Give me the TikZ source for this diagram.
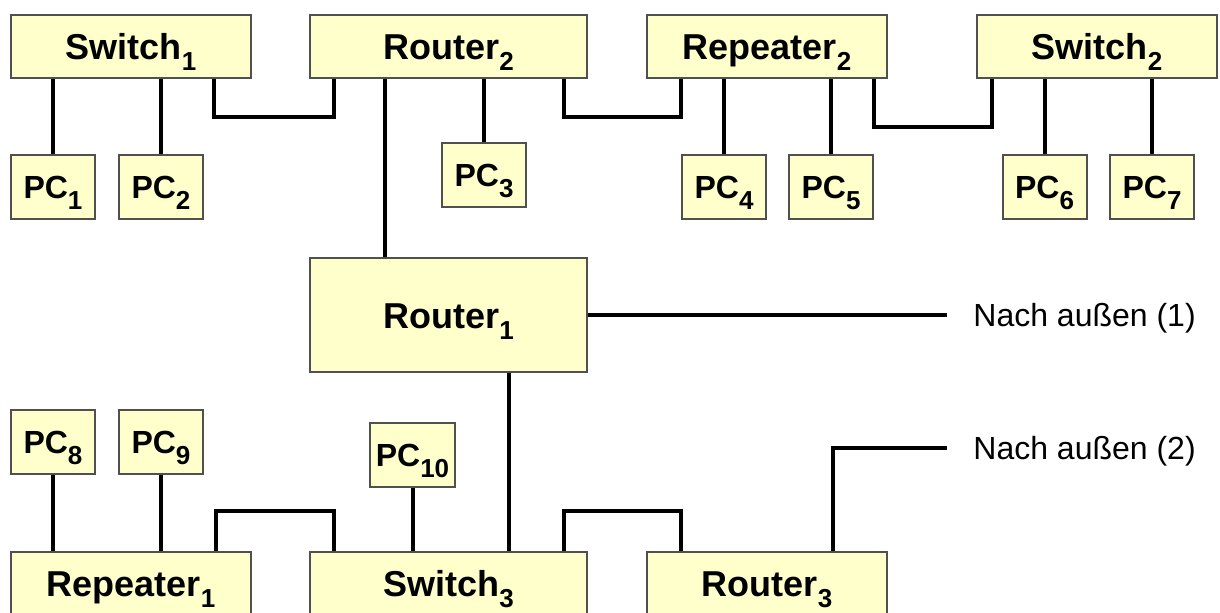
\documentclass[tikz,border=0pt]{standalone}
\usepackage{fontspec}
\setmainfont{Liberation Sans}
\usetikzlibrary{positioning, calc}
\definecolor{NETfill}{RGB}{255, 255, 204}
\definecolor{NETline}{RGB}{80, 80, 80}
\newcommand{\idx}[1]{\raisebox{-5.5pt}[0pt][0pt]{\fontsize{13}{13}\selectfont #1}}
\tikzset{
  dev/.style={rectangle, draw=NETline, line width=1pt, fill=NETfill,
    minimum width=120pt, minimum height=31.5pt, inner sep=0pt,
    text height=13pt, text depth=0pt, font=\fontsize{18}{20}\selectfont\bfseries},
  wide/.style={dev, minimum width=138.5pt},
  pc/.style={dev, minimum width=42pt, minimum height=32pt,
    text height=11.5pt, font=\fontsize{16}{18}\selectfont\bfseries},
  link/.style={line width=2pt},
  ext/.style={anchor=west, inner sep=0pt, text height=11.5pt, text depth=0pt,
    font=\fontsize{16}{18}\selectfont},
}

\begin{document}
\begin{tikzpicture}[x=0.5pt, y=-0.5pt]
  \useasboundingbox (0,0) rectangle (1220,612);
  % upper row
  \node[dev] (sw1) at (131,46.5) {Switch\idx{1}};
  \node[wide] (rt2) at (448.5,46.5) {Router\idx{2}};
  \node[dev] (rp2) at (767,46.5) {Repeater\idx{2}};
  \node[dev] (sw2) at (1097,46.5) {Switch\idx{2}};
  \node[pc] (pc1) at (53,187) {PC\idx{1}};
  \node[pc] (pc2) at (161,187) {PC\idx{2}};
  \node[pc] (pc3) at (484,175) {PC\idx{3}};
  \node[pc] (pc4) at (724,187) {PC\idx{4}};
  \node[pc] (pc5) at (831,187) {PC\idx{5}};
  \node[pc] (pc6) at (1044.5,187) {PC\idx{6}};
  \node[pc] (pc7) at (1152,187) {PC\idx{7}};
  % middle
  \node[wide, minimum height=57pt] (rt1) at (448.5,315) {Router\idx{1}};
  \node[ext] (ext1) at (973,315) {Nach außen (1)};
  \node[ext] (ext2) at (973,448) {Nach außen (2)};
  % lower row
  \node[pc] (pc8) at (53,442) {PC\idx{8}};
  \node[pc] (pc9) at (161,442) {PC\idx{9}};
  \node[pc, minimum width=42.5pt] (pc10) at (412.5,455) {PC\idx{10}};
  \node[dev] (rp1) at (131,583) {Repeater\idx{1}};
  \node[wide] (sw3) at (448.5,583) {Switch\idx{3}};
  \node[dev] (rt3) at (767,583) {Router\idx{3}};

  \draw[link] (pc1.north) -- (pc1.north |- sw1.south);
  \draw[link] (pc2.north) -- (pc2.north |- sw1.south);
  \draw[link] (pc3.north) -- (pc3.north |- rt2.south);
  \draw[link] (pc4.north) -- (pc4.north |- rp2.south);
  \draw[link] (pc5.north) -- (pc5.north |- rp2.south);
  \draw[link] (pc6.north) -- (pc6.north |- sw2.south);
  \draw[link] (pc7.north) -- (pc7.north |- sw2.south);
  \draw[link] ([xshift=-19pt]sw1.south east) -- ++(0,38) -| ([xshift=12.5pt]rt2.south west);
  \draw[link] ([xshift=-12pt]rt2.south east) -- ++(0,38) -| ([xshift=17.5pt]rp2.south west);
  \draw[link] ([xshift=-7pt]rp2.south east) -- ++(0,48) -| ([xshift=8pt]sw2.south west);

  \coordinate (r1top) at ([xshift=38pt]rt1.north west);
  \coordinate (r1bot) at ([xshift=100pt]rt1.south west);
  \draw[link] (r1top) -- (r1top |- rt2.south);
  \draw[link] (r1bot) -- (r1bot |- sw3.north);
  \draw[link] (rt1.east) -- ([xshift=-13pt]ext1.west);

  \draw[link] (pc8.south) -- (pc8.south |- rp1.north);
  \draw[link] (pc9.south) -- (pc9.south |- rp1.north);
  \draw[link] (pc10.south) -- (pc10.south |- sw3.north);
  \draw[link] ([xshift=-18pt]rp1.north east) -- ++(0,-40) -| ([xshift=12.5pt]sw3.north west);
  \draw[link] ([xshift=-12pt]sw3.north east) -- ++(0,-40) -| ([xshift=17.5pt]rt3.north west);
  \draw[link] ([xshift=-27.5pt]rt3.north east) |- ([xshift=-13pt]ext2.west);
\end{tikzpicture}
\end{document}
